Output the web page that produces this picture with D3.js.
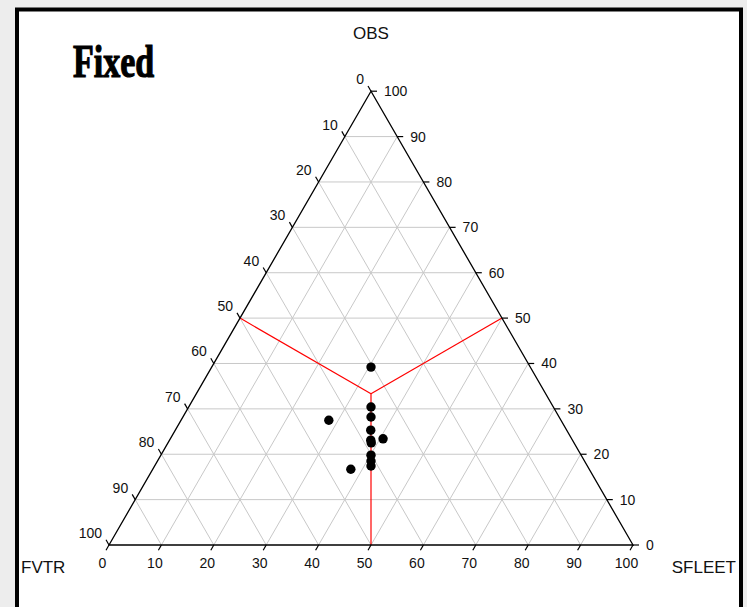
<!DOCTYPE html>
<html>
<head>
<meta charset="utf-8">
<script src="https://cdn.jsdelivr.net/npm/d3@7"></script>
<style>
  html, body { margin: 0; padding: 0; background: #ededed; }
  svg { display: block; }
</style>
</head>
<body>
<svg id="chart" width="747" height="607"></svg>
<script>
// Composition of each observation (percent): OBS + SFLEET + FVTR = 100
const obs    = [39.2, 30.4, 28.2, 25.3, 23.1, 22.5, 23.4, 27.5, 19.8, 18.5, 17.4, 16.7];
const sfleet = [30.4, 34.8, 35.9, 37.3, 38.4, 38.8, 40.6, 28.2, 40.1, 40.75, 41.3, 37.8];
const fvtr   = [30.4, 34.8, 35.9, 37.4, 38.5, 38.7, 36.0, 44.3, 40.1, 40.75, 41.3, 45.5];

const tickValues = [0, 10, 20, 30, 40, 50, 60, 70, 80, 90, 100];
const gridValues = [10, 20, 30, 40, 50, 60, 70, 80, 90];
const axisNames = { top: "OBS", left: "FVTR", right: "SFLEET" };
const title = "Fixed";

// Reference composition lines: from the centroid to each side's midpoint
const centroid = { o: 100 / 3, s: 100 / 3 };
const midpoints = [{ o: 50, s: 0 }, { o: 50, s: 50 }, { o: 0, s: 50 }];

const svg = d3.select("#chart");
const W = 747, H = 607;

// Panel
svg.append("rect").attr("x", 0).attr("y", 0).attr("width", W).attr("height", H).attr("fill", "#ededed");
svg.append("rect")
  .attr("x", 17).attr("y", 9.5).attr("width", 724).attr("height", 640)
  .attr("fill", "#ffffff").attr("stroke", "#000").attr("stroke-width", 4);

// Triangle geometry
const x0 = 109, yb = 545, L = 524;
const sin60 = Math.sqrt(3) / 2;
const side = d3.scaleLinear().domain([0, 100]).range([0, L]);

// o = OBS (top), s = SFLEET (bottom right); FVTR is the remainder
const px = (o, s) => x0 + side(s) + side(o) / 2;
const py = (o) => yb - side(o) * sin60;

const g = svg.append("g");

// Grid
const grid = g.append("g").attr("stroke", "#c8c8c8").attr("stroke-width", 1).attr("fill", "none");
gridValues.forEach(v => {
  // constant OBS (horizontal)
  grid.append("line")
    .attr("x1", px(v, 0)).attr("y1", py(v))
    .attr("x2", px(v, 100 - v)).attr("y2", py(v));
  // constant SFLEET
  grid.append("line")
    .attr("x1", px(0, v)).attr("y1", py(0))
    .attr("x2", px(100 - v, v)).attr("y2", py(100 - v));
  // constant FVTR
  grid.append("line")
    .attr("x1", px(100 - v, 0)).attr("y1", py(100 - v))
    .attr("x2", px(0, 100 - v)).attr("y2", py(0));
});

// Red reference lines
const red = g.append("g").attr("stroke", "#ff0000").attr("stroke-width", 1.2);
midpoints.forEach(m => {
  red.append("line")
    .attr("x1", px(centroid.o, centroid.s)).attr("y1", py(centroid.o))
    .attr("x2", px(m.o, m.s)).attr("y2", py(m.o));
});

// Triangle outline
g.append("path")
  .attr("d", d3.line()([[px(100, 0), py(100)], [px(0, 0), py(0)], [px(0, 100), py(0)]]) + "Z")
  .attr("fill", "none").attr("stroke", "#000").attr("stroke-width", 1.3);

// Ticks and tick labels
const tl = 6;
const ticks = g.append("g").attr("stroke", "#000").attr("stroke-width", 1.2);
const labels = g.append("g")
  .attr("font-family", "'Liberation Sans', Arial, sans-serif")
  .attr("font-size", 14).attr("fill", "#111");

tickValues.forEach(v => {
  // bottom axis: SFLEET
  const bx = px(0, v), by = py(0);
  ticks.append("line").attr("x1", bx).attr("y1", by)
    .attr("x2", bx - 0.5 * tl).attr("y2", by + sin60 * tl);
  labels.append("text").attr("x", bx - 6.5).attr("y", by + 23)
    .attr("text-anchor", "middle").text(v);

  // left axis: FVTR (0 at top)
  const lo = 100 - v;
  const lx = px(lo, 0), ly = py(lo);
  ticks.append("line").attr("x1", lx).attr("y1", ly)
    .attr("x2", lx - 0.5 * tl).attr("y2", ly - sin60 * tl);
  labels.append("text").attr("x", lx - 7).attr("y", ly - 7)
    .attr("text-anchor", "end").text(v);

  // right axis: OBS (0 at bottom right)
  const rx = px(v, 100 - v), ry = py(v);
  ticks.append("line").attr("x1", rx).attr("y1", ry)
    .attr("x2", rx + tl).attr("y2", ry);
  labels.append("text").attr("x", rx + 13).attr("y", ry + 5)
    .attr("text-anchor", "start").text(v);
});

// Axis titles
const titles = g.append("g")
  .attr("font-family", "'Liberation Sans', Arial, sans-serif")
  .attr("font-size", 17).attr("fill", "#111");
titles.append("text").attr("x", 371).attr("y", 39).attr("text-anchor", "middle").text(axisNames.top);
titles.append("text").attr("x", 21).attr("y", 573).attr("text-anchor", "start").text(axisNames.left);
titles.append("text").attr("x", 736).attr("y", 573).attr("text-anchor", "end").text(axisNames.right);

// Data points
g.append("g").selectAll("circle")
  .data(obs.map((o, i) => ({ o, s: sfleet[i], f: fvtr[i] })))
  .join("circle")
  .attr("cx", d => px(d.o, d.s))
  .attr("cy", d => py(d.o))
  .attr("r", 4.7)
  .attr("fill", "#000");

// Title
svg.append("text")
  .attr("transform", "translate(73,77) scale(0.74,1)")
  .attr("font-family", "'Liberation Serif', 'Times New Roman', serif")
  .attr("font-weight", "bold")
  .attr("font-size", 46)
  .attr("fill", "#000")
  .attr("stroke", "#000")
  .attr("stroke-width", 1.2)
  .text(title);
</script>
</body>
</html>
